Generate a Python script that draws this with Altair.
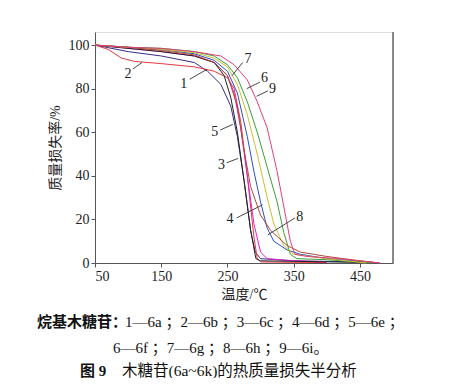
import altair as alt
import pandas as pd

# --- curve data (temperature °C, mass %) ---
c1_t = [50, 100, 150, 200, 220, 240, 255, 265, 275, 285, 292, 300, 350, 450]
c1_w = [100, 97, 95, 92, 88, 82, 72, 58, 38, 15, 5, 2, 1, 0.5]
c2_t = [50, 70, 90, 110, 150, 200, 230, 250, 260, 270, 280, 290, 295, 300, 350, 400]
c2_w = [100, 98, 94, 92.5, 91.5, 90, 88, 85, 80, 65, 40, 12, 2, 0.5, 0.3, 0.2]
c3_t = [50, 100, 150, 200, 230, 250, 260, 270, 280, 290, 300, 310, 350, 400]
c3_w = [100, 98.5, 97, 95, 92, 86, 78, 62, 40, 18, 5, 2, 1, 0.5]
c4_t = [50, 100, 150, 200, 230, 250, 265, 280, 290, 300, 310, 320, 340, 360, 400, 450, 480]
c4_w = [100, 99, 98, 96, 93, 88, 78, 58, 42, 28, 16, 10, 6, 4, 2, 0.8, 0]
c5_t = [50, 100, 150, 200, 230, 245, 255, 265, 275, 285, 293, 300, 450]
c5_w = [100, 98.5, 97, 95, 92, 86, 76, 60, 38, 15, 2, 1, 0.3]
c6_t = [50, 100, 150, 200, 230, 250, 265, 280, 295, 310, 325, 335, 345, 355, 400, 470]
c6_w = [100, 99, 98.5, 97, 95, 91, 85, 74, 60, 44, 28, 14, 4, 2, 1.5, 0]
c7_t = [50, 100, 150, 200, 230, 250, 265, 280, 295, 310, 320, 335, 350, 400, 460]
c7_w = [100, 99, 98, 96.5, 94, 90, 82, 68, 50, 30, 18, 8, 4, 2, 0]
c8_t = [50, 100, 150, 200, 230, 250, 265, 275, 285, 300, 315, 340, 360, 400, 450, 480]
c8_w = [100, 99, 97.5, 95.5, 92, 86, 72, 52, 35, 22, 15, 8, 5, 3, 1, 0]
c9_t = [50, 100, 150, 200, 240, 260, 280, 295, 310, 325, 335, 345, 352, 370, 420, 480]
c9_w = [100, 99, 98.5, 97, 95, 91, 84, 74, 62, 42, 26, 10, 4, 3, 2, 0]

curve_ids = ["1", "2", "3", "4", "5", "6", "7", "8", "9"]
curve_colors = ["#3a2a8a", "#e8383d", "#e020d0", "#2b4fc8", "#222222",
                "#3aa03a", "#c8c030", "#b04a3a", "#e0407a"]
curves_t = [c1_t, c2_t, c3_t, c4_t, c5_t, c6_t, c7_t, c8_t, c9_t]
curves_w = [c1_w, c2_w, c3_w, c4_w, c5_w, c6_w, c7_w, c8_w, c9_w]

# --- curve labels and leader lines ---
label_text = ["1", "2", "3", "4", "5", "6", "7", "8", "9"]
label_tx = [184, 100, 241, 254, 231, 306, 281, 359, 318]
label_ty = [82, 86.6, 45, 20, 60, 85, 93.5, 21, 80]
lead_x1 = [193, 107, 249, 264, 239, 299, 273, 352, 311]
lead_y1 = [84.3, 89, 46, 20.7, 61, 83, 92, 20.7, 79]
lead_x2 = [219, 121, 266, 303, 258, 279, 257, 311, 294]
lead_y2 = [88.9, 92, 48, 26.7, 63.6, 80, 86, 12.9, 76.5]

x_ticks = [50, 150, 250, 350, 450]
y_ticks = [0, 20, 40, 60, 80, 100]

caption1_head = "烷基木糖苷："
caption1_body = "1—6a ；2—6b ；3—6c ；4—6d ；5—6e ；"
caption2 = "6—6f ；7—6g ；8—6h ；9—6i。"
caption3_head = "图 9"
caption3_body = "木糖苷(6a~6k)的热质量损失半分析"

FONT = "Liberation Serif, Noto Sans CJK SC"
CJK = "Noto Sans CJK SC"

rows = []
for cid, ts, ws in zip(curve_ids, curves_t, curves_w):
    for i, (t, w) in enumerate(zip(ts, ws)):
        rows.append({"id": cid, "T": t, "W": w, "o": i})
df = pd.DataFrame(rows)

lab = pd.DataFrame({"text": label_text, "tx": label_tx, "ty": label_ty,
                    "x1": lead_x1, "y1": lead_y1, "x2": lead_x2, "y2": lead_y2})

xscale = alt.Scale(domain=[50, 500], nice=False, zero=False)
yscale = alt.Scale(domain=[0, 106], nice=False)

lines = alt.Chart(df).mark_line(strokeWidth=1.0).encode(
    x=alt.X("T:Q", scale=xscale,
            axis=alt.Axis(title="温度/℃", values=x_ticks, grid=False, tickSize=4,
                          labelFont=FONT, labelFontSize=14, labelColor="#222",
                          titleFont=FONT, titleFontSize=14, titleFontWeight="normal",
                          titleColor="#222", domainColor="#555", tickColor="#555",
                          titlePadding=4, labelPadding=2)),
    y=alt.Y("W:Q", scale=yscale,
            axis=alt.Axis(title="质量损失率/%", values=y_ticks, grid=False, tickSize=4,
                          labelFont=FONT, labelFontSize=14, labelColor="#222",
                          titleFont=FONT, titleFontSize=14, titleFontWeight="normal",
                          titleColor="#222", domainColor="#555", tickColor="#555",
                          titlePadding=6, labelPadding=2)),
    color=alt.Color("id:N", scale=alt.Scale(domain=curve_ids, range=curve_colors), legend=None),
    order="o:Q",
    detail="id:N",
)

right_border = alt.Chart(pd.DataFrame({"x": [500]})).mark_rule(color="#666", strokeWidth=1.5).encode(
    x=alt.X("x:Q", scale=xscale), y=alt.value(0), y2=alt.value(231)
)

leaders = alt.Chart(lab).mark_rule(color="#333", strokeWidth=0.9).encode(
    x=alt.X("x1:Q", scale=xscale), y=alt.Y("y1:Q", scale=yscale),
    x2="x2:Q", y2="y2:Q"
)

labels = alt.Chart(lab).mark_text(font=FONT, fontSize=14, color="#222").encode(
    x=alt.X("tx:Q", scale=xscale), y=alt.Y("ty:Q", scale=yscale), text="text:N"
)


def cap(text, x, y, size, bold=False, font=FONT):
    kw = dict(font=font, fontSize=size, color="#111", align="left")
    if bold:
        kw["fontWeight"] = "bold"
    return alt.Chart(pd.DataFrame({"t": [text]})).mark_text(**kw).encode(
        text="t:N", x=alt.value(x), y=alt.value(y))


caps = [
    cap(caption1_head, -58, 290, 15, bold=True, font=CJK),
    cap(caption1_body, 30, 290, 15),
    cap(caption2, 18, 316, 15),
    cap(caption3_head, -15, 339, 15, bold=True),
    cap(caption3_body, 27, 339, 15.5),
]

chart = alt.layer(lines, right_border, leaders, labels, *caps).properties(
    width=298, height=231,
    autosize=alt.AutoSizeParams(type="none"),
    padding={"left": 87, "top": 24, "right": 65, "bottom": 115},
).configure_view(stroke=None).configure(background="white")

chart.save("out.html", embed_options={"renderer": "svg", "actions": False})
